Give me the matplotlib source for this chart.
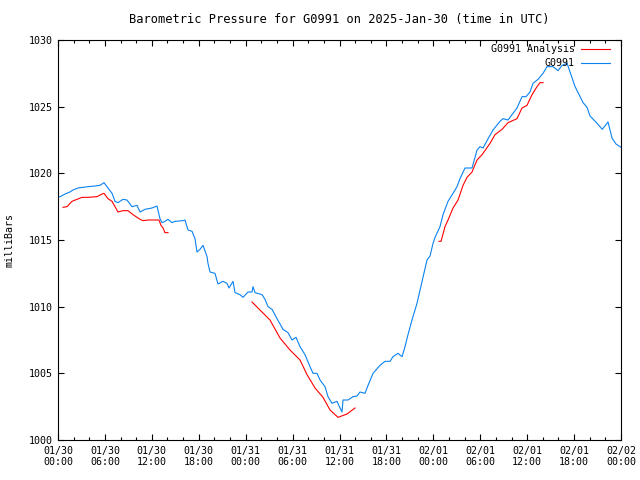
import numpy as np
import pandas as pd
import matplotlib
matplotlib.use("Agg")
import matplotlib.pyplot as plt
import matplotlib.dates as mdates

# gnuplot-like look
plt.rcParams['font.family'] = ['DejaVu Sans Mono']
plt.rcParams['font.size'] = 7.2

start = pd.Timestamp('2025-01-30 00:00')

# station observations (hours since start, millibars)
obs_hours = [0, 0.26, 0.9, 1.53, 1.92, 2.56, 3.2, 3.84, 4.73, 5.37, 5.88, 6.39, 6.91, 7.29,
             7.67, 8.31, 8.82, 9.46, 10.1, 10.49, 11.13, 12.02, 12.66, 13.04, 13.3, 13.68,
             14.07, 14.58, 14.96, 15.99, 16.24, 16.63, 17.14, 17.52, 17.78, 18.16, 18.54,
             19.06, 19.18, 19.44, 20.08, 20.46, 21.1, 21.61, 21.87, 22.38, 22.64, 23.28,
             23.66, 24.3, 24.81, 24.94, 25.2, 26.09, 26.47, 26.86, 27.37, 28.01, 28.78,
             29.42, 29.93, 30.44, 30.95, 31.59, 32.23, 32.61, 33.12, 33.51, 34.15, 34.53,
             35.04, 35.68, 36.07, 36.32, 36.45, 37.09, 37.73, 38.24, 38.62, 39.26, 39.65,
             40.29, 41.18, 41.82, 42.46, 42.84, 43.48, 44.0, 44.38, 44.76, 45.27, 45.91,
             46.3, 46.68, 47.19, 47.58, 47.96, 48.22, 48.85, 49.24, 49.88, 50.52, 51.03,
             51.41, 52.05, 52.95, 53.59, 53.97, 54.36, 55.0, 55.63, 56.53, 56.91, 57.55,
             58.06, 58.7, 59.34, 59.85, 60.36, 60.75, 61.39, 62.03, 62.54, 63.31, 63.95,
             64.46, 65.1, 66.13, 67.15, 67.66, 68.04, 68.94, 69.6, 70.34, 70.85, 71.36, 72]
obs_mb = [1018.2, 1018.25, 1018.45, 1018.6, 1018.75, 1018.9, 1018.95, 1019.0, 1019.05,
          1019.1, 1019.3, 1018.9, 1018.5, 1017.9, 1017.8, 1018.05, 1018.0, 1017.5, 1017.6,
          1017.1, 1017.3, 1017.4, 1017.55, 1016.6, 1016.3, 1016.4, 1016.55, 1016.3, 1016.4,
          1016.45, 1016.5, 1015.75, 1015.65, 1015.1, 1014.1, 1014.3, 1014.6, 1013.75,
          1013.25, 1012.6, 1012.5, 1011.7, 1011.9, 1011.75, 1011.4, 1011.9, 1011.05,
          1010.9, 1010.7, 1011.1, 1011.1, 1011.5, 1011.05, 1010.9, 1010.55, 1010.0,
          1009.8, 1009.1, 1008.3, 1008.05, 1007.5, 1007.7, 1007.0, 1006.4, 1005.5, 1005.0,
          1005.0, 1004.5, 1004.0, 1003.25, 1002.75, 1002.9, 1002.4, 1002.1, 1003.0, 1003.0,
          1003.25, 1003.3, 1003.6, 1003.5, 1004.1, 1005.0, 1005.6, 1005.9, 1005.9, 1006.25,
          1006.5, 1006.25, 1007.0, 1007.9, 1009.0, 1010.25, 1011.25, 1012.25, 1013.5,
          1013.8, 1014.75, 1015.2, 1016.0, 1016.9, 1017.9, 1018.5, 1019.0, 1019.6, 1020.4,
          1020.4, 1021.75, 1022.0, 1021.9, 1022.6, 1023.25, 1023.9, 1024.1, 1024.0, 1024.4,
          1024.9, 1025.75, 1025.75, 1026.1, 1026.75, 1027.05, 1027.5, 1028.0, 1028.0,
          1027.7, 1028.1, 1028.25, 1026.5, 1025.3, 1024.95, 1024.3, 1023.75, 1023.3,
          1023.85, 1022.65, 1022.2, 1021.95]

# analysis (NaN separates the three pieces)
ana_hours = [0.64, 1.15, 1.79, 2.43, 3.07, 3.84, 4.99, 5.63, 5.88, 6.39, 6.91, 7.29, 7.67,
             8.31, 8.95, 9.59, 10.49, 10.87, 11.51, 12.41, 12.92, 13.17, 13.43, 13.68, 14.07,
             14.5,
             24.81, 25.83, 27.11, 28.39, 29.67, 30.95, 31.85, 32.87, 33.89, 34.79, 35.81,
             36.96, 37.98,
             38.5,
             48.73, 48.98, 49.49, 49.88, 50.52, 51.16, 51.8, 52.31, 52.95, 53.59, 54.23,
             55.25, 55.89, 56.79, 57.55, 58.7, 59.34, 59.98, 60.62, 61.26, 61.64, 62.03]
ana_mb = [1017.45, 1017.5, 1017.9, 1018.05, 1018.2, 1018.2, 1018.25, 1018.45, 1018.5,
          1018.1, 1017.9, 1017.5, 1017.1, 1017.2, 1017.2, 1016.9, 1016.55, 1016.45, 1016.5,
          1016.5, 1016.5, 1016.1, 1015.9, 1015.55, 1015.55,
          np.nan,
          1010.35, 1009.75, 1009.0, 1007.65, 1006.75, 1006.0, 1004.9, 1003.9, 1003.2,
          1002.25, 1001.7, 1001.95, 1002.4,
          np.nan,
          1014.9, 1014.9, 1016.0, 1016.5, 1017.4, 1018.0, 1019.1, 1019.7, 1020.1, 1021.0,
          1021.4, 1022.25, 1022.9, 1023.3, 1023.8, 1024.1, 1024.9, 1025.1, 1025.9, 1026.5,
          1026.8, 1026.8]

obs_t = start + pd.to_timedelta(obs_hours, unit='h')
ana_t = start + pd.to_timedelta(ana_hours, unit='h')

fig = plt.figure(figsize=(6.4, 4.8), dpi=100)
ax = fig.add_axes([58 / 640, 40 / 480, 563 / 640, 400 / 480])

ax.plot(ana_t, ana_mb, color='#ff0000', lw=0.8)
ax.plot(obs_t, obs_mb, color='#0a82f0', lw=0.8)

# legend, gnuplot style (text right aligned, sample on the right)
ax.text(0.918, 0.978, 'G0991 Analysis', transform=ax.transAxes, ha='right', va='center')
ax.plot([0.929, 0.980], [0.978, 0.978], transform=ax.transAxes, color='#ff0000', lw=0.8)
ax.text(0.918, 0.943, 'G0991', transform=ax.transAxes, ha='right', va='center')
ax.plot([0.929, 0.980], [0.943, 0.943], transform=ax.transAxes, color='#0a82f0', lw=0.8)

ax.set_xlim(start, start + pd.Timedelta(hours=72))
ax.set_ylim(1000, 1030)
ax.set_yticks(np.arange(1000, 1031, 5))
ax.xaxis.set_major_locator(mdates.HourLocator(byhour=range(0, 24, 6)))
ax.xaxis.set_minor_locator(mdates.HourLocator(byhour=range(0, 24, 2)))
ax.xaxis.set_major_formatter(mdates.DateFormatter('%m/%d\n%H:%M'))
ax.tick_params(which='both', direction='in', top=True, right=True, width=0.8)
ax.tick_params(which='major', length=4.5, pad=4)
ax.tick_params(which='minor', length=2.5)
for s in ax.spines.values():
    s.set_linewidth(0.8)

ax.set_title('Barometric Pressure for G0991 on 2025-Jan-30 (time in UTC)', pad=12)
ax.set_ylabel('milliBars')
ax.yaxis.set_label_coords(-0.077, 0.5)

fig.savefig('out.png', dpi=100)
